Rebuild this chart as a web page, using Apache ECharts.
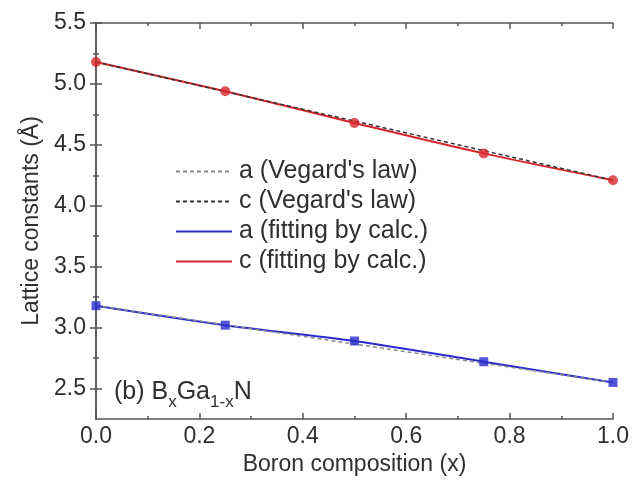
<!DOCTYPE html>
<html>
<head>
<meta charset="utf-8">
<script src="https://cdn.jsdelivr.net/npm/echarts@6/dist/echarts.min.js"></script>
<style>
  html, body { margin: 0; padding: 0; background: #fff; }
  #chart { width: 642px; height: 490px; }
</style>
</head>
<body>
<div id="chart"></div>
<script>
// Boron composition of BxGa1-xN and calculated lattice constants (Å)
const boronX = [0, 0.25, 0.5, 0.75, 1.0];
const cCalc = [5.18, 4.94, 4.68, 4.43, 4.21];
const aCalc = [3.18, 3.02, 2.89, 2.72, 2.55];

// Vegard's law: linear interpolation between GaN (x=0) and BN (x=1)
const vegardX = [0, 1];
const aVegard = [3.18, 2.55];
const cVegard = [5.18, 4.21];

// Axis ticks
const xTicks = [0, 0.2, 0.4, 0.6, 0.8, 1.0];
const xMinorTicks = [0.1, 0.3, 0.5, 0.7, 0.9];
const yTicks = [2.5, 3.0, 3.5, 4.0, 4.5, 5.0, 5.5];
const yMinorTicks = [2.75, 3.25, 3.75, 4.25, 4.75, 5.25];

const legendNames = ["a (Vegard's law)", "c (Vegard's law)", 'a (fitting by calc.)', 'c (fitting by calc.)'];

const FONT = 'Liberation Sans, Arial, sans-serif';
const TXT = '#2f2f2f';
const AX = '#555';
const RED = '#d8262a';
const BLUE = '#2a2ad0';

const pairs = (xs, ys) => xs.map((x, i) => [x, ys[i]]);

const chart = echarts.init(document.getElementById('chart'), null, { renderer: 'canvas' });

const axisLineStyle = { show: true, lineStyle: { color: AX, width: 1.5 } };

const xMain = {
  type: 'value', min: 0, max: 1, position: 'bottom',
  axisLine: axisLineStyle,
  axisTick: { show: true, inside: true, length: 6, customValues: xTicks, lineStyle: { color: AX, width: 1.5 } },
  axisLabel: { show: true, customValues: xTicks, margin: 6, color: TXT, fontSize: 23, fontFamily: FONT,
               formatter: v => v.toFixed(1) },
  splitLine: { show: false },
  name: 'Boron composition (x)', nameLocation: 'middle', nameGap: 32,
  nameTextStyle: { color: TXT, fontSize: 23, fontFamily: FONT }
};
const xSide = (pos, ticks, len, withLine) => ({
  type: 'value', min: 0, max: 1, position: pos,
  axisLine: withLine ? axisLineStyle : { show: false },
  axisTick: { show: true, inside: true, length: len, customValues: ticks, lineStyle: { color: AX, width: 1.5 } },
  axisLabel: { show: false }, splitLine: { show: false }
});

const yMain = {
  type: 'value', min: 2.25, max: 5.5, position: 'left',
  axisLine: axisLineStyle,
  axisTick: { show: true, inside: true, length: 6, customValues: yTicks, lineStyle: { color: AX, width: 1.5 } },
  axisLabel: { show: true, customValues: yTicks, margin: 10, color: TXT, fontSize: 23, fontFamily: FONT,
               formatter: v => v.toFixed(1) },
  splitLine: { show: false },
  name: 'Lattice constants (Å)', nameLocation: 'middle', nameGap: 52,
  nameTextStyle: { color: TXT, fontSize: 23, fontFamily: FONT }
};
const ySide = (pos, ticks, len, withLine) => ({
  type: 'value', min: 2.25, max: 5.5, position: pos,
  axisLine: withLine ? axisLineStyle : { show: false },
  axisTick: { show: true, inside: true, length: len, customValues: ticks, lineStyle: { color: AX, width: 1.5 } },
  axisLabel: { show: false }, splitLine: { show: false }
});

chart.setOption({
  animation: false,
  backgroundColor: '#fff',
  grid: { left: 96, right: 29, top: 23, bottom: 71, containLabel: false },
  xAxis: [
    xMain,
    xSide('bottom', xMinorTicks, 3, false),
    xSide('top', xTicks, 6, true),
    xSide('top', xMinorTicks, 3, false)
  ],
  yAxis: [
    yMain,
    ySide('left', yMinorTicks, 3, false),
    ySide('right', yTicks, 6, true),
    ySide('right', yMinorTicks, 3, false)
  ],
  legend: {
    data: legendNames,
    orient: 'vertical',
    left: 170, top: 154,
    itemWidth: 56, itemHeight: 12, itemGap: 5,
    itemStyle: { opacity: 0 },
    textStyle: { color: TXT, fontSize: 25, fontFamily: FONT, padding: [0, 0, 0, 2] },
    selectedMode: false
  },
  graphic: [{
    type: 'text', left: 114, top: 380, silent: true,
    style: {
      text: '{m|(b) B}{s|x}{m|Ga}{s|1-x}{m|N}',
      rich: {
        m: { fontSize: 25, fontFamily: FONT, fill: TXT, lineHeight: 30, verticalAlign: 'bottom' },
        s: { fontSize: 17, fontFamily: FONT, fill: TXT, lineHeight: 22, verticalAlign: 'bottom', padding: [0, 0, -6, 0] }
      }
    }
  }],
  series: [
    {
      name: "a (Vegard's law)", type: 'line', data: pairs(vegardX, aVegard),
      showSymbol: false, symbol: 'none', z: 4,
      lineStyle: { color: '#8a8a8a', width: 1.5, type: [4, 3] }, itemStyle: { color: '#8a8a8a' }
    },
    {
      name: "c (Vegard's law)", type: 'line', data: pairs(vegardX, cVegard),
      showSymbol: false, symbol: 'none', z: 4,
      lineStyle: { color: '#333', width: 1.5, type: [4, 3] }, itemStyle: { color: '#333' }
    },
    {
      name: 'a (fitting by calc.)', type: 'line', data: pairs(boronX, aCalc),
      smooth: 0.3, showSymbol: false, symbol: 'none', z: 3,
      lineStyle: { color: BLUE, width: 2 }, itemStyle: { color: BLUE }
    },
    {
      name: 'c (fitting by calc.)', type: 'line', data: pairs(boronX, cCalc),
      smooth: 0.3, showSymbol: false, symbol: 'none', z: 3,
      lineStyle: { color: RED, width: 2 }, itemStyle: { color: RED }
    },
    {
      name: 'a points', type: 'scatter', data: pairs(boronX, aCalc),
      symbol: 'rect', symbolSize: 9, itemStyle: { color: BLUE }, z: 5, clip: false
    },
    {
      name: 'c points', type: 'scatter', data: pairs(boronX, cCalc),
      symbol: 'circle', symbolSize: 10, itemStyle: { color: RED }, z: 5, clip: false
    }
  ]
});
</script>
</body>
</html>
